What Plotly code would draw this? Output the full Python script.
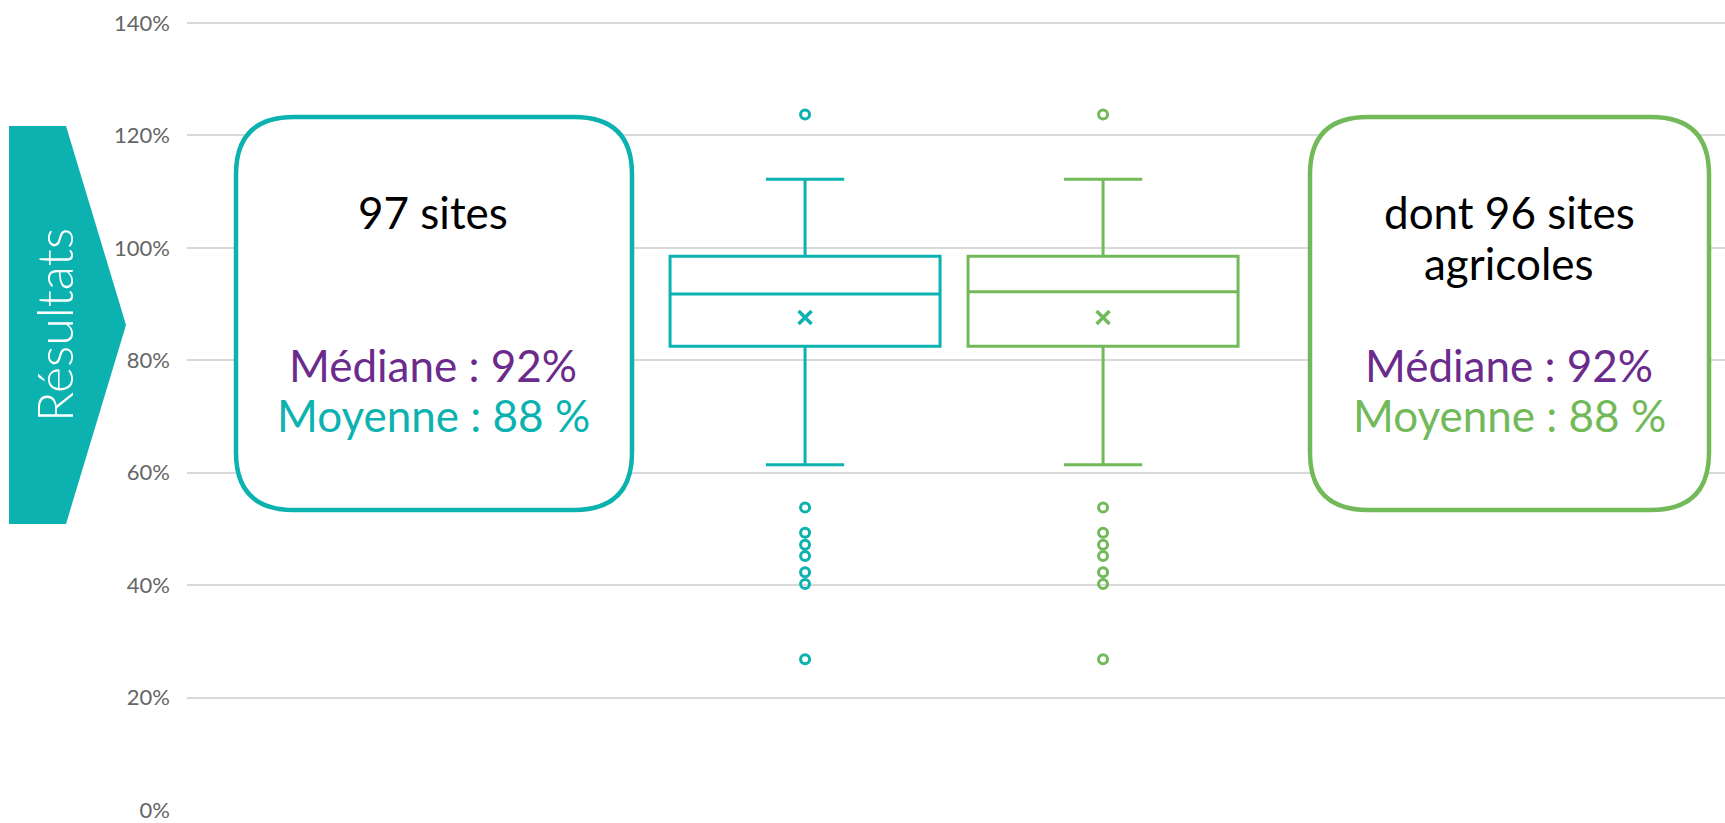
import plotly.graph_objects as go

# ---------------- data ----------------
series_names = ["97 sites", "dont 96 sites agricoles"]
positions = [1, 2]
q1_vals = [0.825, 0.825]
median_vals = [0.918, 0.922]
q3_vals = [0.985, 0.985]
lower_fences = [0.614, 0.614]
upper_fences = [1.122, 1.122]
mean_vals = [0.876, 0.876]
outliers_all = [1.237, 0.538, 0.493, 0.472, 0.452, 0.423, 0.402, 0.268]
outliers_agri = [1.237, 0.538, 0.493, 0.472, 0.452, 0.423, 0.402, 0.268]
outliers = [outliers_all, outliers_agri]
tick_vals = [0, 0.2, 0.4, 0.6, 0.8, 1.0, 1.2, 1.4]

TEAL = "#0BB2AF"
GREEN = "#72B95A"
PURPLE = "#6A2B8C"
colors = [TEAL, GREEN]

W, H = 1725, 823
Y_TOP, Y_BOT = 23, 818  # pixels of 140% and 0%
EXT_T, EXT_B = 6, 1     # extra pixels beyond 140% / 0% so edge gridlines are drawn
ML, MR = 187, 0
MT = Y_TOP - EXT_T
MB = H - Y_BOT - EXT_B
PW, PH = W - ML - MR, H - MT - MB
span_px = Y_BOT - Y_TOP
y_lo = -EXT_B * 1.4 / span_px
y_hi = 1.4 + EXT_T * 1.4 / span_px


def px(x):
    # pixel -> paper x
    return (x - ML) / PW


def py(y):
    # pixel -> paper y
    return (H - MB - y) / PH


fig = go.Figure()

for i in range(2):
    fig.add_trace(go.Box(
        x=[positions[i]], q1=[q1_vals[i]], median=[median_vals[i]], q3=[q3_vals[i]],
        lowerfence=[lower_fences[i]], upperfence=[upper_fences[i]],
        boxpoints=False, width=0.906, whiskerwidth=0.29,
        fillcolor="rgba(0,0,0,0)", line=dict(color=colors[i], width=3),
        name=series_names[i], showlegend=False, hoverinfo="skip"))
    fig.add_trace(go.Scatter(
        x=[positions[i]], y=[mean_vals[i]], mode="markers",
        marker=dict(symbol="x-thin", size=13, line=dict(color=colors[i], width=3.5)),
        showlegend=False, hoverinfo="skip"))
    fig.add_trace(go.Scatter(
        x=[positions[i]] * len(outliers[i]), y=outliers[i], mode="markers",
        marker=dict(symbol="circle-open", size=9, color=colors[i], line=dict(color=colors[i], width=3)),
        showlegend=False, hoverinfo="skip"))


def P(x, y):
    return f"{px(x):.5f},{py(y):.5f}"


def rounded_rect(x0, y0, x1, y1, r):
    return (f"M {P(x0 + r, y0)} L {P(x1 - r, y0)} Q {P(x1, y0)} {P(x1, y0 + r)} "
            f"L {P(x1, y1 - r)} Q {P(x1, y1)} {P(x1 - r, y1)} "
            f"L {P(x0 + r, y1)} Q {P(x0, y1)} {P(x0, y1 - r)} "
            f"L {P(x0, y0 + r)} Q {P(x0, y0)} {P(x0 + r, y0)} Z")


shapes = [
    dict(type="path", xref="paper", yref="paper", path=rounded_rect(236, 118, 632, 515, 58),
         line=dict(color=TEAL, width=4.5), fillcolor="white", layer="above"),
    dict(type="path", xref="paper", yref="paper", path=rounded_rect(1310, 118, 1709, 515, 58),
         line=dict(color=GREEN, width=4.5), fillcolor="white", layer="above"),
    dict(type="path", xref="paper", yref="paper",
         path=f"M {P(9, 127)} L {P(66, 127)} L {P(126, 328)} L {P(66, 529)} L {P(9, 529)} Z",
         line=dict(width=0), fillcolor=TEAL, layer="above"),
]

TF = "Lato"
FS = 44


def ann(x, y, text, size, color, **kw):
    d = dict(x=px(x), y=py(y), xref="paper", yref="paper", text=text, showarrow=False,
             font=dict(family=TF, size=size, color=color), xanchor="center", yanchor="middle")
    d.update(kw)
    return d


annotations = [
    ann(54, 328, "Résultats", 50, "white", textangle=-90),
    ann(433, 214, "97 sites", FS, "black"),
    ann(433, 369, "Médiane : 92%", FS, PURPLE),
    ann(433, 419, "Moyenne : 88 %", FS, TEAL),
    ann(1509, 214, "dont 96 sites", FS, "black"),
    ann(1509, 265, "agricoles", FS, "black"),
    ann(1509, 369, "Médiane : 92%", FS, PURPLE),
    ann(1509, 419, "Moyenne : 88 %", FS, GREEN),
]
annotations[0]["font"]["weight"] = 300

fig.update_layout(
    width=W, height=H,
    margin=dict(l=ML, r=MR, t=MT, b=MB),
    paper_bgcolor="white", plot_bgcolor="white",
    shapes=shapes, annotations=annotations,
    xaxis=dict(range=[-1.074, 4.087], showgrid=False, zeroline=False, showticklabels=False,
               showline=False, fixedrange=True),
    yaxis=dict(range=[y_lo, y_hi], tickvals=tick_vals, tickformat=".0%", showgrid=True,
               gridcolor="#D9D9D9", gridwidth=1.5, zeroline=False, showline=False,
               tickfont=dict(family=TF, size=22, color="#666666"), ticklabelstandoff=16,
               ticklabeloverflow="allow"),
)

fig.write_html(
    "out.html",
    config={"displayModeBar": False},
    post_script="document.body.style.margin='0px';document.documentElement.style.overflow='hidden';",
)
